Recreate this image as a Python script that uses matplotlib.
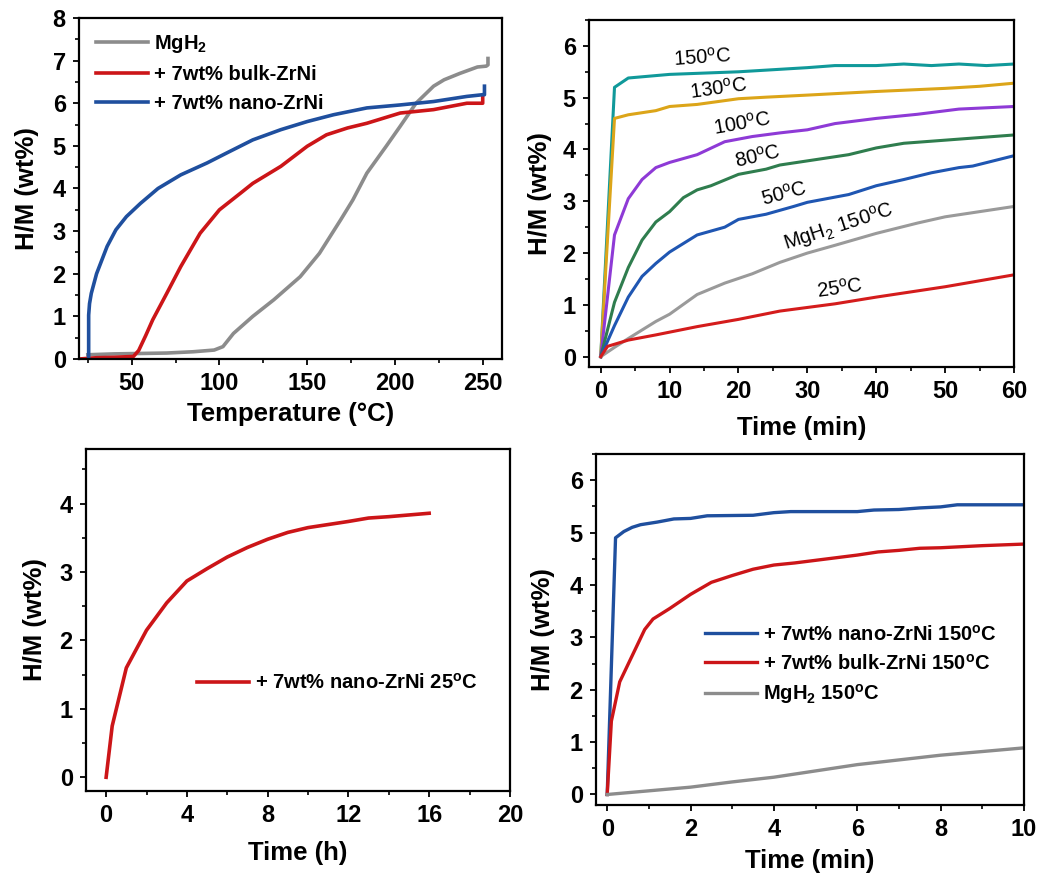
import numpy as np
import matplotlib
matplotlib.use("Agg")
import matplotlib.pyplot as plt
from matplotlib.ticker import MultipleLocator

plt.rcParams['font.family'] = ['Liberation Sans', 'DejaVu Sans']
plt.rcParams['mathtext.default'] = 'regular'

# (a) TPA: temperature ramp
mg_T = [25, 40, 55, 70, 85, 97, 102, 108, 119, 131, 146, 157, 169, 176, 184, 195, 203, 212, 222, 228, 237, 247, 252, 253, 253]
mg_H = [0.10, 0.12, 0.13, 0.14, 0.17, 0.21, 0.29, 0.6, 1.0, 1.39, 1.93, 2.48, 3.26, 3.73, 4.36, 4.99, 5.46, 6.0, 6.4, 6.55, 6.7, 6.85, 6.87, 6.9, 7.05]
bulk_T = [20, 30, 40, 51, 54, 58, 62, 70, 78, 89, 100, 112, 119, 135, 150, 161, 173, 184, 203, 222, 241, 250, 250]
bulk_H = [0.0, 0.03, 0.04, 0.06, 0.2, 0.55, 0.92, 1.54, 2.17, 2.95, 3.5, 3.89, 4.12, 4.52, 4.99, 5.26, 5.42, 5.53, 5.77, 5.85, 6.0, 6.0, 6.16]
nano_T = [25.5, 25.5, 26, 27, 30, 36, 41, 47, 55, 65, 78, 93, 104, 119, 135, 150, 165, 184, 203, 222, 241, 250, 251, 251]
nano_H = [0.0, 1.03, 1.3, 1.54, 2.0, 2.64, 3.03, 3.34, 3.65, 4.0, 4.32, 4.6, 4.83, 5.14, 5.38, 5.57, 5.73, 5.89, 5.96, 6.04, 6.16, 6.2, 6.2, 6.4]

# (b) isothermal absorption of nano-ZrNi sample, 60 min
t150 = [0, 2, 4, 10, 20, 30, 34, 40, 44, 48, 52, 56, 60]
h150 = [0, 5.2, 5.38, 5.45, 5.5, 5.58, 5.62, 5.62, 5.65, 5.62, 5.65, 5.62, 5.65]
t130 = [0, 2, 4, 8, 10, 14, 20, 24, 30, 40, 50, 55, 60]
h130 = [0, 4.6, 4.67, 4.75, 4.83, 4.87, 4.98, 5.01, 5.05, 5.12, 5.18, 5.22, 5.28]
t100 = [0, 2, 4, 6, 8, 10, 14, 18, 22, 26, 30, 34, 40, 46, 52, 60]
h100 = [0, 2.35, 3.05, 3.42, 3.65, 3.75, 3.9, 4.15, 4.25, 4.32, 4.38, 4.5, 4.6, 4.68, 4.78, 4.83]
t80 = [0, 2, 4, 6, 8, 10, 12, 14, 16, 20, 24, 26, 30, 36, 40, 44, 50, 60]
h80 = [0, 1.05, 1.72, 2.25, 2.6, 2.8, 3.07, 3.22, 3.3, 3.52, 3.62, 3.7, 3.78, 3.9, 4.03, 4.12, 4.18, 4.28]
t50 = [0, 2, 4, 6, 8, 10, 14, 18, 20, 24, 28, 30, 34, 36, 40, 44, 48, 52, 54, 60]
h50 = [0, 0.6, 1.15, 1.55, 1.8, 2.02, 2.35, 2.5, 2.65, 2.75, 2.9, 2.98, 3.08, 3.13, 3.3, 3.42, 3.55, 3.65, 3.68, 3.88]
tmg = [0, 2, 4, 8, 10, 14, 18, 22, 26, 30, 34, 40, 46, 50, 54, 60]
hmg = [0, 0.18, 0.35, 0.68, 0.82, 1.2, 1.42, 1.6, 1.82, 2.0, 2.15, 2.38, 2.58, 2.7, 2.78, 2.9]
t25 = [0, 1, 4, 8, 14, 20, 26, 34, 40, 50, 60]
h25 = [0, 0.2, 0.32, 0.42, 0.58, 0.72, 0.88, 1.02, 1.15, 1.35, 1.58]

# (c) 25 C long run, hours
th = [0, 0.3, 1, 2, 3, 4, 5, 6, 7, 8, 9, 10, 12, 13, 14, 16]
hh = [0, 0.75, 1.6, 2.15, 2.55, 2.87, 3.05, 3.22, 3.36, 3.48, 3.58, 3.65, 3.74, 3.79, 3.81, 3.86]

# (d) 150 C comparison, 10 min
tn = [0, 0.2, 0.4, 0.6, 0.8, 1.2, 1.6, 2, 2.4, 3.5, 4, 4.4, 5, 6, 6.4, 7, 7.5, 8, 8.4, 10]
hn = [0, 4.9, 5.02, 5.1, 5.15, 5.2, 5.26, 5.27, 5.32, 5.33, 5.38, 5.4, 5.4, 5.4, 5.43, 5.44, 5.47, 5.49, 5.53, 5.53]
tb = [0, 0.1, 0.3, 0.6, 0.9, 1.1, 1.5, 2, 2.5, 3, 3.5, 4, 4.5, 5, 5.5, 6, 6.5, 7, 7.5, 8, 9, 10]
hb = [0, 1.4, 2.15, 2.65, 3.15, 3.35, 3.55, 3.82, 4.05, 4.18, 4.3, 4.38, 4.42, 4.47, 4.52, 4.57, 4.63, 4.66, 4.7, 4.71, 4.75, 4.78]
tm = [0, 1, 2, 3, 4, 5, 6, 7, 8, 9, 10]
hm = [0, 0.07, 0.14, 0.24, 0.33, 0.45, 0.57, 0.66, 0.75, 0.82, 0.89]

GRAY = '#8c8c8c'
RED = '#cc1518'
BLUE = '#1f4f9e'

TICK_FS = 17
LAB_FS = 18.5
LEG = {'size': 14.5, 'weight': 'bold'}


def style(ax, xmaj, xmin, ymaj, ymin, xpad, ypad):
    ax.xaxis.set_major_locator(MultipleLocator(xmaj))
    ax.xaxis.set_minor_locator(MultipleLocator(xmin))
    ax.yaxis.set_major_locator(MultipleLocator(ymaj))
    ax.yaxis.set_minor_locator(MultipleLocator(ymin))
    ax.tick_params(which='major', direction='out', length=4.5, width=1.3,
                   labelsize=TICK_FS, pad=5)
    ax.tick_params(which='minor', direction='out', length=3, width=1.2)
    for lab in ax.get_xticklabels() + ax.get_yticklabels():
        lab.set_fontweight('bold')
    for s in ax.spines.values():
        s.set_linewidth(1.6)
    ax.set_ylabel('H/M (wt%)', fontsize=LAB_FS, fontweight='bold', labelpad=ypad)
    ax.xaxis.labelpad = xpad


fig = plt.figure(figsize=(10.52, 8.81), dpi=100)

# ---- top left
ax1 = fig.add_axes([0.0751, 0.5925, 0.4021, 0.3871])
ax1.plot(mg_T, mg_H, color=GRAY, lw=2.6, label='MgH$_2$')
ax1.plot(bulk_T, bulk_H, color=RED, lw=2.6, label='+ 7wt% bulk-ZrNi')
ax1.plot(nano_T, nano_H, color=BLUE, lw=2.6, label='+ 7wt% nano-ZrNi')
ax1.set_xlim(20, 261)
ax1.set_ylim(0, 8)
ax1.set_xlabel('Temperature (\u00b0C)', fontsize=LAB_FS, fontweight='bold')
style(ax1, 50, 25, 1, 0.5, 5, 10)
ax1.legend(loc='upper left', bbox_to_anchor=(0.04, 0.955), frameon=False, borderpad=0,
           borderaxespad=0, handlelength=2.6, handletextpad=0.3, labelspacing=0.5,
           prop=LEG)

# ---- top right
ax2 = fig.add_axes([0.5599, 0.5834, 0.4040, 0.3939])
series2 = [
    (t150, h150, '#10999a', '150$^{o}$C', 14.7, 5.78, 4),
    (t130, h130, '#dca519', '130$^{o}$C', 17.1, 5.18, 8),
    (t100, h100, '#8e3ad6', '100$^{o}$C', 20.5, 4.5, 10),
    (t80, h80, '#2f7d4e', '80$^{o}$C', 22.8, 3.86, 13),
    (t50, h50, '#1f56b2', '50$^{o}$C', 26.6, 3.15, 15),
    (tmg, hmg, '#9a9a9a', 'MgH$_2$ 150$^{o}$C', 34.6, 2.5, 18),
    (t25, h25, '#d41c1c', '25$^{o}$C', 34.8, 1.32, 8),
]
for t, h, c, lab, tx, ty, rot in series2:
    ax2.plot(t, h, color=c, lw=2.2)
    ax2.text(tx, ty, lab, fontsize=14.5, rotation=rot, ha='center', va='center')
ax2.set_xlim(-1.7, 60)
ax2.set_ylim(-0.2, 6.5)
ax2.set_xlabel('Time (min)', fontsize=LAB_FS, fontweight='bold')
style(ax2, 10, 5, 1, 0.5, 9, 7.5)

# ---- bottom left
ax3 = fig.add_axes([0.0817, 0.1022, 0.4030, 0.3882])
ax3.plot(th, hh, color=RED, lw=2.6, label='+ 7wt% nano-ZrNi 25$^{o}$C')
ax3.set_xlim(-1, 20)
ax3.set_ylim(-0.2, 4.8)
ax3.set_xlabel('Time (h)', fontsize=LAB_FS, fontweight='bold')
style(ax3, 4, 2, 1, 0.5, 10, 9)
ax3.legend(loc='center left', bbox_to_anchor=(0.262, 0.316), frameon=False, borderpad=0,
           borderaxespad=0, handlelength=2.6, handletextpad=0.3, prop=LEG)

# ---- bottom right
ax4 = fig.add_axes([0.5665, 0.0863, 0.4068, 0.3984])
ax4.plot(tn, hn, color=BLUE, lw=2.4, label='+ 7wt% nano-ZrNi 150$^{o}$C')
ax4.plot(tb, hb, color=RED, lw=2.4, label='+ 7wt% bulk-ZrNi 150$^{o}$C')
ax4.plot(tm, hm, color=GRAY, lw=2.4, label='MgH$_2$ 150$^{o}$C')
ax4.set_xlim(-0.27, 10)
ax4.set_ylim(-0.2, 6.5)
ax4.set_xlabel('Time (min)', fontsize=LAB_FS, fontweight='bold')
style(ax4, 2, 1, 1, 0.5, 6, 10.5)
ax4.legend(loc='upper left', bbox_to_anchor=(0.255, 0.515), frameon=False, borderpad=0,
           borderaxespad=0, handlelength=2.6, handletextpad=0.3, labelspacing=0.45,
           prop=LEG)

fig.savefig('out.png', dpi=100)
